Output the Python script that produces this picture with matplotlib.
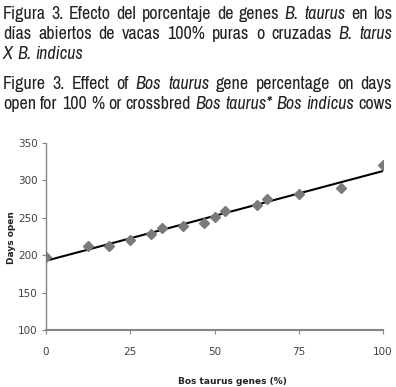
import numpy as np
import matplotlib.pyplot as plt
from matplotlib import font_manager

# data
genes = [0, 12.5, 18.75, 25, 31.25, 34.4, 40.6, 46.9, 50, 53.1, 62.5, 65.6, 75, 87.5, 100]
days_open = [197, 212, 212, 220, 228, 236, 239, 243, 251, 259, 267, 275, 282, 290, 321]
xticks = [0, 25, 50, 75, 100]
yticks = [100, 150, 200, 250, 300, 350]

# caption lines: (text, italic) segments
caption = [
    [("Figura 3. Efecto del porcentaje de genes", False), ("B. taurus", True), ("en los", False)],
    [("días abiertos de vacas 100% puras o cruzadas", False), ("B. tarus", True)],
    [("X B. indicus", True)],
    [("Figure 3. Effect of", False), ("Bos taurus", True), ("gene percentage on days", False)],
    [("open for 100 % or crossbred", False), ("Bos taurus* Bos indicus", True), ("cows", False)],
]
justify = [True, True, False, True, True]
baselines = [19, 39, 59, 89, 109]   # pixels from top

W, H = 396, 387
axis_grey = "#868686"
text_dark = "#222222"
label_col = "#404040"

# look for a narrow face for the caption
names = sorted({f.name for f in font_manager.fontManager.ttflist})
narrow = [n for n in names if "Narrow" in n or "Condensed" in n]
cap_props = dict(family=narrow[0] if narrow else "DejaVu Sans")
if not narrow:
    cap_props["stretch"] = "condensed"

fig = plt.figure(figsize=(W / 100, H / 100), dpi=100)
ax = fig.add_axes([46 / W, 1 - 330 / H, (383 - 46) / W, (330 - 143) / H])

ax.plot(genes, days_open, ls="none", marker="D", ms=5.5, color="#7a7a7a", zorder=3)

# linear trend line
slope, inter = np.polyfit(genes, days_open, 1)
xs = np.array([0, 100])
ax.plot(xs, inter + slope * xs, color="black", lw=1.5, zorder=2)

ax.set_xlim(0, 100)
ax.set_ylim(100, 350)
ax.set_xticks(xticks)
ax.set_yticks(yticks)
ax.spines[["top", "right"]].set_visible(False)
ax.spines[["left", "bottom"]].set_color(axis_grey)
ax.spines["bottom"].set_linewidth(1.5)
ax.spines["left"].set_linewidth(1.0)
ax.tick_params(axis="both", colors=axis_grey, labelcolor=label_col, labelsize=7.5, length=3)
ax.tick_params(axis="x", pad=9)
ax.tick_params(axis="y", pad=3)

fig.text(12 / W, 1 - 238 / H, "Days open", rotation=90, ha="center", va="center",
         fontsize=6.5, fontweight="bold", color=text_dark)
fig.text(232 / W, 1 - 381 / H, "Bos taurus genes (%)", ha="center", va="center",
         fontsize=6.5, fontweight="bold", color=text_dark)

# caption, word by word so lines can be justified
fig.canvas.draw()
renderer = fig.canvas.get_renderer()
left, right = 3, 392


def width_of(s, size, it=False):
    t = fig.text(0, 0, s, fontsize=size, style="italic" if it else "normal", **cap_props)
    w = t.get_window_extent(renderer).width
    t.remove()
    return w


# pick the largest size where every line fits with normal spaces
size = 16
while size > 6:
    sw = width_of("a a", size) - width_of("aa", size)
    fits = True
    for segs in caption:
        words = [(w, it) for txt, it in segs for w in txt.split(" ")]
        total = sum(width_of(w, size, it) for w, it in words) + sw * (len(words) - 1)
        if total > right - left:
            fits = False
    if fits:
        break
    size -= 0.25

sw = width_of("a a", size) - width_of("aa", size)
for segs, just, base in zip(caption, justify, baselines):
    words = [(w, it) for txt, it in segs for w in txt.split(" ")]
    widths = [width_of(w, size, it) for w, it in words]
    gap = sw
    if just and len(words) > 1:
        gap = (right - left - sum(widths)) / (len(words) - 1)
    x = left
    for (w, it), wd in zip(words, widths):
        fig.text(x / W, 1 - base / H, w, fontsize=size, style="italic" if it else "normal",
                 color=text_dark, ha="left", va="baseline", **cap_props)
        x += wd + gap

fig.savefig("out.png", dpi=100)
